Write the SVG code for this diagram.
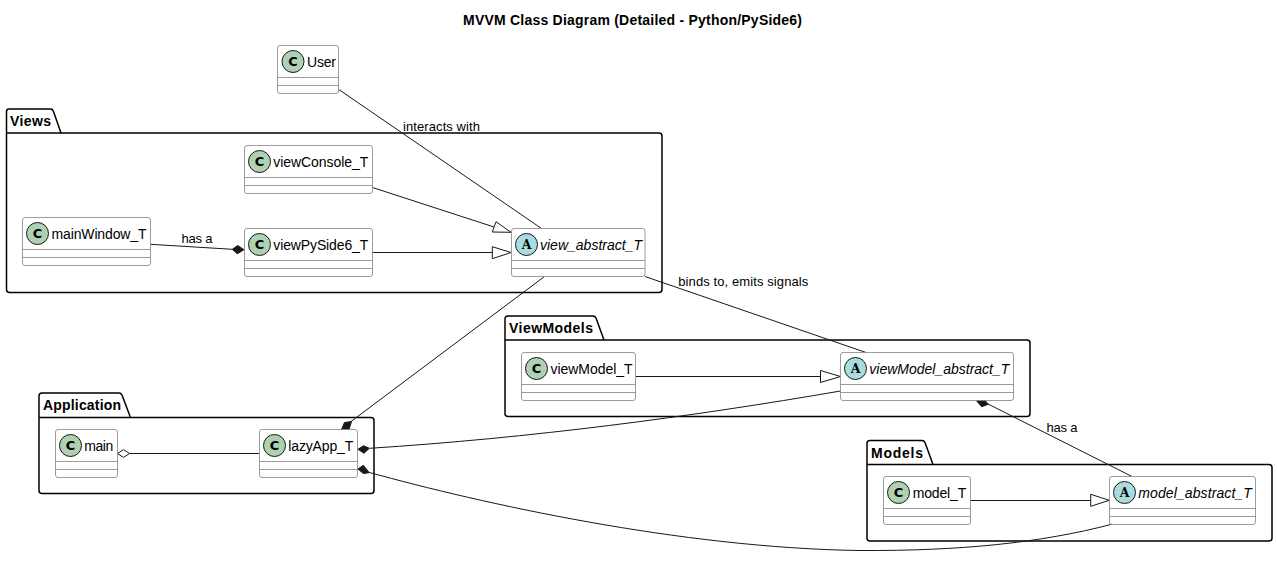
<svg xmlns="http://www.w3.org/2000/svg" width="1277" height="583" viewBox="0 0 1277 583">
<style>
text{font-family:"Liberation Sans",Arial,sans-serif;fill:#000}
.t{font-size:14px;font-weight:bold}
.p{font-size:14px;font-weight:bold}
.n{font-size:14px}
.i{font-size:14px;font-style:italic}
.l{font-size:13px}
.g{font-family:"DejaVu Sans",sans-serif;font-size:13px;font-weight:bold;text-anchor:middle}
.ga{font-family:"DejaVu Serif",serif;font-size:12.500px;font-weight:bold;text-anchor:middle}
.pk{fill:#fff;stroke:#000;stroke-width:1.5}
.b{fill:#fff;stroke:#7b7b7b;stroke-width:.75}
.s{stroke:#7b7b7b;stroke-width:.75;fill:none}
.c{fill:#add1b2;stroke:#181818;stroke-width:1}
.a{fill:#a9dcdf;stroke:#181818;stroke-width:1}
.e{fill:none;stroke:#181818;stroke-width:1}
.h{fill:#fff;stroke:#181818;stroke-width:1}
.d{fill:#181818;stroke:#181818;stroke-width:1}
</style>
<rect width="1277" height="583" fill="#fff"/>
<text class="t" x="463" y="25" textLength="339">MVVM Class Diagram (Detailed - Python/PySide6)</text>

<g id="pkg-views"><path class="pk" d="M9 109H50.500Q52.500 109 53.300 111L61 133H659Q662 133 662 136V289.500Q662 292.500 659 292.500H9.500Q6.500 292.500 6.500 289.500V111.500Q6.500 109 9 109Z"/><path class="pk" d="M6.500 133H61"/><text class="p" x="10" y="126" textLength="41">Views</text></g>
<g id="pkg-viewmodels"><path class="pk" d="M508.500 316H593Q595 316 596 318L604 340H1027Q1030 340 1030 343V413.500Q1030 416.500 1027 416.500H508Q505 416.500 505 413.500V319Q505 316 508.500 316Z"/><path class="pk" d="M505 340H604"/><text class="p" x="509" y="333" textLength="84">ViewModels</text></g>
<g id="pkg-application"><path class="pk" d="M42 393H119Q121 393 122 395L130.500 417.500H371Q374 417.500 374 420.500V490.500Q374 493.500 371 493.500H42Q39 493.500 39 490.500V396Q39 393 42 393Z"/><path class="pk" d="M39 417.500H130.500"/><text class="p" x="43" y="410" textLength="78">Application</text></g>
<g id="pkg-models"><path class="pk" d="M870 440.500H922Q924 440.500 925 442.500L933 464.500H1269Q1272 464.500 1272 467.500V538Q1272 541 1269 541H870Q867 541 867 538V443.500Q867 440.500 870 440.500Z"/><path class="pk" d="M867 464.500H933"/><text class="p" x="871" y="458" textLength="52">Models</text></g>

<g id="connectors">
<path class="e" d="M338.800 89.500L541.500 228.500"/>
<path class="e" d="M372.500 187.500L494 227"/><path class="h" d="M511 232.300L496 221.700L492.300 232Z"/>
<path class="e" d="M372.500 252.500H492.300"/><path class="h" d="M511 252.500L492.300 246.700V258.700Z"/>
<path class="e" d="M150.500 244.300L232.300 249.300"/><path class="d" d="M244 249.700L237.700 245.500L232.300 249.300L237.300 253.800Z"/>
<path class="e" d="M645 276.500L866 352.500"/><path class="e" d="M636 376.500H821"/><path class="h" d="M840.500 376.500L820.500 370.500V382.500Z"/>
<path class="e" d="M544.500 276.500L351 421.500"/><path class="d" d="M351.500 421.500L344.500 422.500L341.500 429.500H349Z"/>
<path class="e" d="M129.500 453.500H259.500"/><path class="h" d="M117.500 453.500L123.500 449.600L129.500 453.500L123.500 457.400Z"/>
<path class="e" d="M369.500 448.300C530 438 690 417 840.500 391"/><path class="d" d="M358 449.300L363.500 445.700L369.300 448.300L364 453.300Z"/>
<path class="e" d="M369.500 472.500C480 503 680 548 860 550.500C960 551 1040 543 1111.700 524.300"/><path class="d" d="M358 469L363.300 465.300L369.300 472.700L363.300 473.500Z"/>
<path class="e" d="M988 404L1132 476.500"/><path class="d" d="M976.500 400.700L985 400.500L988.300 404.300L981.700 406.700Z"/>
<path class="e" d="M970.500 500.500H1090.700"/><path class="h" d="M1109.300 500.300L1090.700 494.300V506.300Z"/>
</g>

<text class="l" x="403" y="131" textLength="77">interacts with</text>
<text class="l" x="181.500" y="243" textLength="31">has a</text>
<text class="l" x="678.300" y="286" textLength="130">binds to, emits signals</text>
<text class="l" x="1046.500" y="432" textLength="31">has a</text>

<g id="User"><rect class="b" x="277.500" y="45.500" width="61" height="48" rx="2.500"/><path class="s" d="M277.500 77.500H338.500M277.500 85.500H338.500"/><circle class="c" cx="293" cy="61.500" r="11"/><text class="g" x="293" y="66.200">C</text><text class="n" x="307" y="66.500" textLength="29">User</text></g>
<g id="viewConsole_T"><rect class="b" x="244.500" y="145.500" width="128" height="48" rx="2.500"/><path class="s" d="M244.500 177.500H372.500M244.500 185.500H372.500"/><circle class="c" cx="259.500" cy="161.500" r="11"/><text class="g" x="259.500" y="166.200">C</text><text class="n" x="273.300" y="167" textLength="95">viewConsole_T</text></g>
<g id="mainWindow_T"><rect class="b" x="22.500" y="217.500" width="128" height="48" rx="2.500"/><path class="s" d="M22.500 249.500H150.500M22.500 257.500H150.500"/><circle class="c" cx="37.500" cy="233.500" r="11"/><text class="g" x="37.500" y="238.200">C</text><text class="n" x="51.500" y="239" textLength="95">mainWindow_T</text></g>
<g id="viewPySide6_T"><rect class="b" x="244.500" y="228.500" width="128" height="48" rx="2.500"/><path class="s" d="M244.500 260.500H372.500M244.500 268.500H372.500"/><circle class="c" cx="259.500" cy="244.500" r="11"/><text class="g" x="259.500" y="249.200">C</text><text class="n" x="273.300" y="250" textLength="95">viewPySide6_T</text></g>
<g id="view_abstract_T"><rect class="b" x="511.500" y="228.500" width="133.500" height="48" rx="2.500"/><path class="s" d="M511.500 260.500H645M511.500 268.500H645"/><circle class="a" cx="526.500" cy="244.500" r="11"/><text class="ga" x="526.500" y="249">A</text><text class="i" x="540" y="250" textLength="102">view_abstract_T</text></g>
<g id="viewModel_T"><rect class="b" x="521.500" y="352.500" width="114" height="48" rx="2.500"/><path class="s" d="M521.500 384.500H635.500M521.500 392.500H635.500"/><circle class="c" cx="536.500" cy="368.500" r="11"/><text class="g" x="536.500" y="373.200">C</text><text class="n" x="550.500" y="374" textLength="82">viewModel_T</text></g>
<g id="viewModel_abstract_T"><rect class="b" x="840.500" y="352.500" width="173" height="48" rx="2.500"/><path class="s" d="M840.500 384.500H1013.500M840.500 392.500H1013.500"/><circle class="a" cx="855.500" cy="368.500" r="11"/><text class="ga" x="855.500" y="373">A</text><text class="i" x="869.300" y="374" textLength="140">viewModel_abstract_T</text></g>
<g id="main"><rect class="b" x="55.500" y="429.500" width="62" height="48" rx="2.500"/><path class="s" d="M55.500 461.500H117.500M55.500 469.500H117.500"/><circle class="c" cx="70.500" cy="445.500" r="11"/><text class="g" x="70.500" y="450.200">C</text><text class="n" x="84.300" y="451" textLength="29">main</text></g>
<g id="lazyApp_T"><rect class="b" x="259.500" y="429.500" width="98" height="48" rx="2.500"/><path class="s" d="M259.500 461.500H357.500M259.500 469.500H357.500"/><circle class="c" cx="274.500" cy="445.500" r="11"/><text class="g" x="274.500" y="450.200">C</text><text class="n" x="288.300" y="451" textLength="65">lazyApp_T</text></g>
<g id="model_T"><rect class="b" x="883.500" y="476.500" width="87" height="48" rx="2.500"/><path class="s" d="M883.500 508.500H970.500M883.500 516.500H970.500"/><circle class="c" cx="898.500" cy="492.500" r="11"/><text class="g" x="898.500" y="497.200">C</text><text class="n" x="912.700" y="498" textLength="53.500">model_T</text></g>
<g id="model_abstract_T"><rect class="b" x="1109.500" y="476.500" width="146" height="48" rx="2.500"/><path class="s" d="M1109.500 508.500H1255.500M1109.500 516.500H1255.500"/><circle class="a" cx="1124.500" cy="492.500" r="11"/><text class="ga" x="1124.500" y="497">A</text><text class="i" x="1138.300" y="498" textLength="113.500">model_abstract_T</text></g>
</svg>
